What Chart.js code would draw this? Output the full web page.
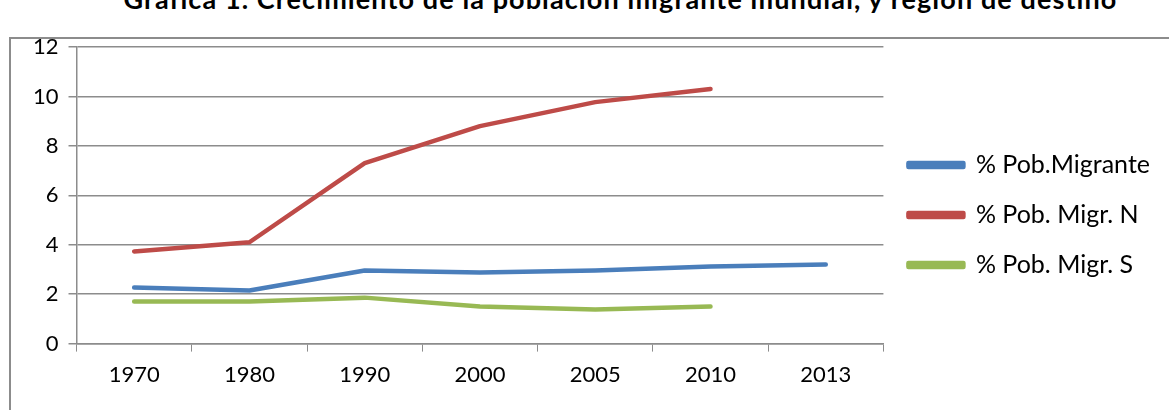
<!DOCTYPE html>
<html>
<head>
<meta charset="utf-8">
<script src="https://cdn.jsdelivr.net/npm/chart.js@4/dist/chart.umd.min.js"></script>
<style>
  html, body { margin: 0; padding: 0; background: #fff; overflow: hidden; }
  #title { position: absolute; left: 36px; width: 1169px; top: -18px; text-align: center;
           font: bold 27px Lato, sans-serif; letter-spacing: 1.1px; color: #000; white-space: nowrap; }
  #frame { position: absolute; left: 9px; top: 37px; width: 1200px; height: 400px;
           border: 2px solid #8c8c8c; }
  #wrap { position: absolute; left: 0; top: 0; width: 1169px; height: 410px; }
</style>
</head>
<body>
<div id="title">Gráfica 1. Crecimiento de la población migrante mundial, y región de destino</div>
<div id="frame"></div>
<div id="wrap"><canvas id="myCanvas" width="1169" height="410"></canvas></div>
<script>
const years = ["1970", "1980", "1990", "2000", "2005", "2010", "2013"];
const pobMigrante = [2.27, 2.15, 2.96, 2.88, 2.96, 3.12, 3.2];
const pobMigrN = [3.73, 4.1, 7.3, 8.8, 9.77, 10.3, null];
const pobMigrS = [1.7, 1.7, 1.86, 1.5, 1.38, 1.5, null];

const ctx = document.getElementById("myCanvas").getContext("2d");
const line = (label, data, color) => ({
  label: label,
  data: data,
  borderColor: color,
  backgroundColor: color,
  borderWidth: 4.5,
  borderCapStyle: "round",
  borderJoinStyle: "round",
  pointRadius: 0,
  tension: 0,
  fill: false
});

new Chart(ctx, {
  type: "line",
  data: {
    labels: years,
    datasets: [
      line("% Pob.Migrante", pobMigrante, "#4a7ebb"),
      line("% Pob. Migr. N", pobMigrN, "#be4b48"),
      line("% Pob. Migr. S", pobMigrS, "#98b954")
    ]
  },
  options: {
    responsive: false,
    animation: false,
    devicePixelRatio: 1,
    layout: { padding: { left: 23, top: 47, right: 9, bottom: 12 } },
    plugins: {
      legend: {
        position: "right",
        align: "start",
        title: { display: true, text: " ", font: { size: 12 }, padding: { top: 0, bottom: 66 } },
        labels: {
          boxWidth: 55,
          boxHeight: 4,
          padding: 25,
          color: "#000",
          font: { family: "Lato", size: 25 }
        }
      },
      tooltip: { enabled: false }
    },
    scales: {
      x: {
        offset: true,
        grid: { display: true, drawOnChartArea: false, offset: true, tickLength: 8, color: "#8c8c8c" },
        border: { color: "#8c8c8c", width: 1.5 },
        ticks: { color: "#000", font: { family: "Lato", size: 22 }, padding: 10, maxRotation: 0 }
      },
      y: {
        min: 0,
        max: 12,
        ticks: { stepSize: 2, color: "#000", font: { family: "Lato", size: 22 }, padding: 10 },
        grid: { color: "#8c8c8c", lineWidth: 1.5, tickLength: 8 },
        border: { color: "#8c8c8c", width: 1.5 }
      }
    }
  }
});
</script>
</body>
</html>
